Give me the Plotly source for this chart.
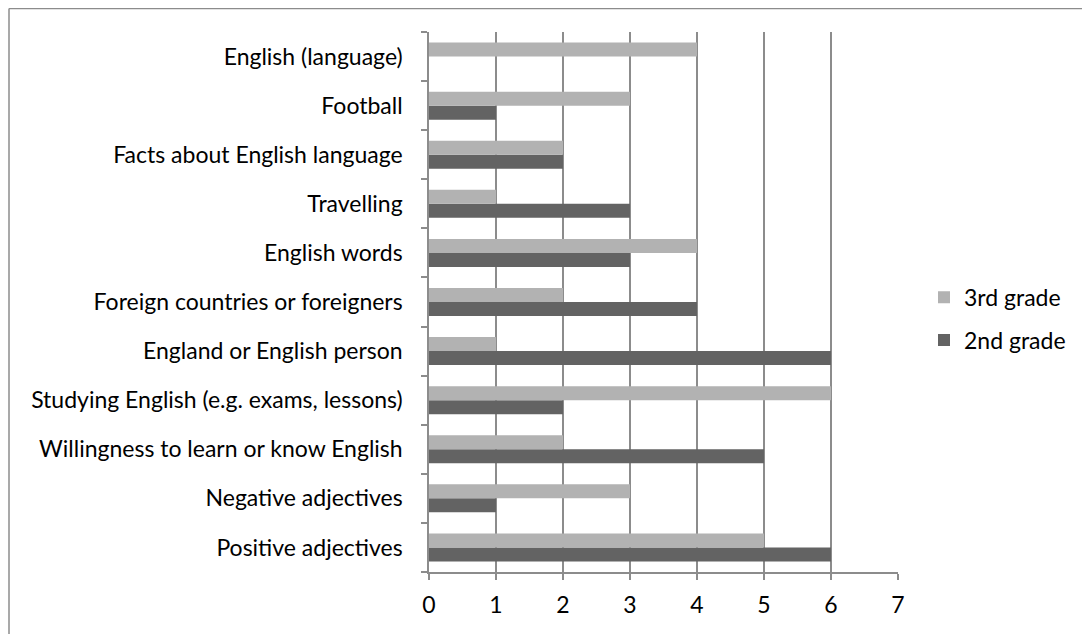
import plotly.graph_objects as go

categories = [
    "Positive adjectives",
    "Negative adjectives",
    "Willingness to learn or know English",
    "Studying English (e.g. exams, lessons)",
    "England or English person",
    "Foreign countries or foreigners",
    "English words",
    "Travelling",
    "Facts about English language",
    "Football",
    "English (language)",
]
grade2 = [6, 1, 5, 2, 6, 4, 3, 3, 2, 1, 0]
grade3 = [5, 3, 2, 6, 1, 2, 4, 1, 2, 3, 4]
x_ticks = [0, 1, 2, 3, 4, 5, 6, 7]

FONT = "Lato"
FS = 23
GRID = "#8c8c8c"

fig = go.Figure()
fig.add_trace(go.Bar(y=categories, x=grade2, name="2nd grade", orientation="h",
                     marker=dict(color="#636363", line=dict(width=0)),
                     legendgroup="g2", legendrank=2))
fig.add_trace(go.Bar(y=categories, x=grade3, name="3rd grade", orientation="h",
                     marker=dict(color="#b2b2b2", line=dict(width=0)),
                     legendgroup="g3", legendrank=1))

# page body has an 8px margin; compensate
OFF = 8
W, H = 1090 - OFF, 634 - OFF
L, T = 429 - OFF, 32 - OFF
pw, ph = 469, 540
R, B = W - L - pw, H - T - ph

fig.update_layout(
    width=W, height=H,
    margin=dict(l=L, r=R, t=T, b=B, autoexpand=False),
    paper_bgcolor="white", plot_bgcolor="white",
    barmode="group", bargap=0.43, bargroupgap=0,
    font=dict(family=FONT, size=FS, color="black"),
    showlegend=True,
    legend=dict(x=(924 - OFF - L) / pw, y=0.469, xanchor="left", yanchor="middle",
                tracegroupgap=10, font=dict(size=FS, family=FONT),
                bgcolor="rgba(0,0,0,0)"),
    xaxis=dict(range=[0, 7], tickvals=x_ticks, showgrid=True, gridcolor=GRID, gridwidth=1.5,
               showline=True, linecolor=GRID, linewidth=1.5, ticks="outside", ticklen=6,
               tickcolor=GRID, tickwidth=1.5, zeroline=False, fixedrange=True,
               ticklabelstandoff=6, tickfont=dict(size=FS, family=FONT)),
    yaxis=dict(showline=True, linecolor=GRID, linewidth=1.5, ticks="outside", ticklen=6,
               tickcolor=GRID, tickwidth=1.5, tickson="boundaries", showgrid=False,
               ticklabelstandoff=20, tickfont=dict(size=FS, family=FONT), fixedrange=True),
    shapes=[
        dict(type="line", xref="paper", yref="paper",
             x0=(9 - OFF - L) / pw, x1=(W - L) / pw, y0=1 + (T - 0.5) / ph, y1=1 + (T - 0.5) / ph,
             line=dict(color="#8c8c8c", width=1.5)),
        dict(type="line", xref="paper", yref="paper",
             x0=(9 - OFF - L) / pw, x1=(9 - OFF - L) / pw, y0=1 + (T - 0.5) / ph, y1=-(B) / ph,
             line=dict(color="#8c8c8c", width=1.5)),
    ],
)

fig.write_html("out.html")
